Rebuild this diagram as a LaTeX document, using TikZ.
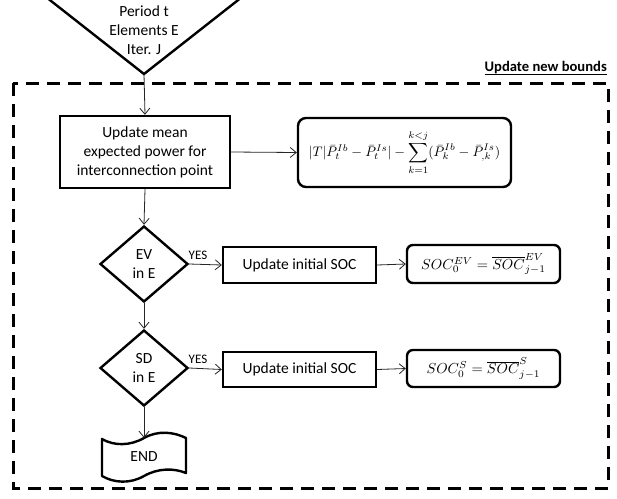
\documentclass[tikz,border=0pt]{standalone}
\usepackage{fontspec}
\usepackage{graphicx}
\setmainfont{Carlito}
\usetikzlibrary{arrows.meta,shapes.geometric}
\tikzset{
  box/.style={draw, line width=2.4pt, rectangle, align=center, inner sep=2pt, font=\fontsize{15.5}{19}\selectfont},
  rbox/.style={draw, line width=2.4pt, rectangle, rounded corners=8pt, align=center, inner sep=2pt},
  dia/.style={draw, line width=2.4pt, diamond, align=center, minimum width=88pt, minimum height=76pt, inner sep=0pt, font=\fontsize{15.5}{19}\selectfont},
  conn/.style={draw=black!85, line width=0.8pt, -{Straight Barb[length=6pt,width=10pt]}},
  lbl/.style={font=\fontsize{13}{15}\selectfont, inner sep=0pt}
}
\begin{document}
\begin{tikzpicture}[x=1pt,y=-1pt]
\useasboundingbox (0,0) rectangle (617,498);
\fill[white] (0,0) rectangle (617,498);
% dashed frame
\draw[line width=3pt, dash pattern=on 13pt off 8pt] (13,83) rectangle (608,488);
\node[anchor=base east, inner sep=0pt, font=\fontsize{14.6}{17}\selectfont\bfseries] (title) at (607,71) {\underline{Update new bounds}};
% input triangle
\draw[line width=2.4pt, line join=miter] (46,-3) -- (242,-3) -- (144,74) -- cycle;
\coordinate (apex) at (144,74);
\node[align=center, font=\fontsize{15.5}{19}\selectfont, inner sep=0pt] (tri) at (144,30) {Period t\\Elements E\\Iter. J};
% main boxes
\node[box, minimum width=170pt, minimum height=72pt] (mean) at (145,152) {Update mean\\expected power for\\interconnection point};
\node[rbox, minimum width=213pt, minimum height=69pt, inner sep=0pt] (form) at (404.5,152.5)
  {\scalebox{1.38}{$|T|\bar{P}_t^{Ib}-\bar{P}_t^{Is}|-\displaystyle\sum_{k=1}^{k<j}(\bar{P}_{k}^{Ib}-\bar{P}_{,k}^{Is})$}};
\node[dia] (ev) at (144,264) {EV\\in E};
\node[dia] (sd) at (144,368) {SD\\in E};
\node[box, minimum width=153pt, minimum height=36pt] (up1) at (299.5,265) {Update initial SOC};
\node[box, minimum width=153pt, minimum height=35pt] (up2) at (299.5,369.5) {Update initial SOC};
\node[rbox, minimum width=153pt, minimum height=38pt, rounded corners=6pt, inner sep=0pt] (soc1) at (483.5,264)
  {\scalebox{1.45}{$SOC_0^{EV}=\overline{SOC}_{j-1}^{EV}$}};
\node[rbox, minimum width=153pt, minimum height=37pt, rounded corners=6pt, inner sep=0pt] (soc2) at (483.5,368.5)
  {\scalebox{1.45}{$SOC_0^{S}=\overline{SOC}_{j-1}^{S}$}};
% END
\node[minimum width=84pt, minimum height=38pt, inner sep=0pt, font=\fontsize{15.5}{19}\selectfont] (end) at (144,457) {END};
\draw[line width=2.4pt, line join=round]
  (102,439) .. controls (114,446) and (130,446) .. (144,438)
  .. controls (158,430) and (174,432) .. (186,438)
  -- (186,473)
  .. controls (174,468) and (158,468) .. (144,476)
  .. controls (130,484) and (114,483) .. (102,476) -- cycle;
% YES labels
\node[lbl] (yes1) at (198,255) {YES};
\node[lbl] (yes2) at (198,359) {YES};
% connectors
\draw[conn] (apex) -- (mean.north);
\draw[conn] (mean.east) -- (form.west);
\draw[conn] (mean.south) -- (ev.north);
\draw[conn] (ev.east) -- (up1.west);
\draw[conn] (up1.east) -- (soc1.west);
\draw[conn] (ev.south) -- (sd.north);
\draw[conn] (sd.east) -- (up2.west);
\draw[conn] (up2.east) -- (soc2.west);
\draw[conn] (sd.south) -- (end.north);
\end{tikzpicture}
\end{document}
